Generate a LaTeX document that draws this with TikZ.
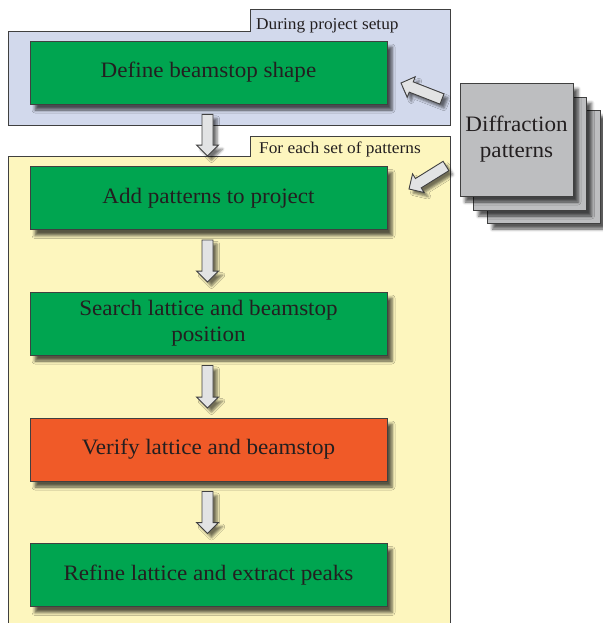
\documentclass[tikz,border=0pt]{standalone}
\usepackage{fontspec}
\setmainfont{Liberation Serif}[FakeStretch=1.05]
\usetikzlibrary{calc,shadows.blur}
\definecolor{bluep}{RGB}{210,217,236}
\definecolor{yellowp}{RGB}{253,246,190}
\definecolor{greenb}{RGB}{0,165,80}
\definecolor{orangeb}{RGB}{240,90,40}
\definecolor{grayb}{RGB}{189,190,192}
\definecolor{arrfill}{RGB}{226,227,228}
\definecolor{lineclr}{RGB}{64,64,64}
\definecolor{txt}{RGB}{35,31,32}
\newcommand\blockarrow[3]{%
  \coordinate (#1-b) at ($(#3)!11pt!(#2)$);
  \path[blockarr] ($(#2)!5.5pt!90:(#3)$) -- ($(#1-b)!5.5pt!90:(#3)$) -- ($(#1-b)!11pt!90:(#3)$) -- (#3) -- ($(#1-b)!11pt!-90:(#3)$) -- ($(#1-b)!5.5pt!-90:(#3)$) -- ($(#2)!5.5pt!-90:(#3)$) -- cycle;
}
\begin{document}
\begin{tikzpicture}[x=1pt,y=-1pt,
  panel/.style={draw=lineclr, line width=1pt},
  box/.style={draw=lineclr, line width=0.9pt, minimum width=357pt, minimum height=63pt, inner sep=0pt,
    text=txt, font=\fontsize{22}{26}\selectfont, align=center,
    blur shadow={shadow xshift=5pt, shadow yshift=-6pt, shadow opacity=65, shadow blur radius=3pt}},
  dsq/.style={draw=lineclr, line width=0.9pt, fill=grayb, minimum width=113pt, minimum height=113pt, inner sep=0pt,
    text=txt, font=\fontsize{22}{26}\selectfont, align=center,
    blur shadow={shadow xshift=5pt, shadow yshift=-6pt, shadow opacity=65, shadow blur radius=3pt}},
  blockarr/.style={draw=lineclr, line width=0.9pt, fill=arrfill, line join=miter,
    blur shadow={shadow xshift=4pt, shadow yshift=-4pt, shadow opacity=55, shadow blur radius=2.5pt}},
  plabel/.style={text=txt, font=\fontsize{16.5}{18}\selectfont, inner sep=0pt, anchor=base west}]
\useasboundingbox (0,0) rectangle (602,623);
% panels
\path[panel, fill=bluep] (8,32) -- (250,32) -- (250,10) -- (450,10) -- (450,125) -- (8,125) -- cycle;
\path[panel, fill=yellowp] (8,156) -- (250,156) -- (250,136) -- (450,136) -- (450,650) -- (8,650) -- cycle;
\node[plabel] (lab1) at (256,30) {During project setup};
\node[plabel] (lab2) at (259,153) {For each set of patterns};
% process boxes
\node[box, fill=greenb] (b1) at (208.5,72.5) {Define beamstop shape};
\node[box, fill=greenb] (b2) at (208.5,198) {Add patterns to project};
\node[box, fill=greenb] (b3) at (208.5,323.5) {Search lattice and beamstop\\position};
\node[box, fill=orangeb] (b4) at (208.5,449.5) {Verify lattice and beamstop};
\node[box, fill=greenb] (b5) at (208.5,575) {Refine lattice and extract peaks};
% diffraction pattern stack
\node[dsq] (d3) at (544,166.5) {};
\node[dsq] (d2) at (530,153.5) {};
\node[dsq] (d1) at (516.5,139.5) {Diffraction\\patterns};
% vertical block arrows
\coordinate (t1) at ($(b1.south)+(-1,10)$); \coordinate (h1) at ($(b2.north)+(-1,-10)$);
\coordinate (t2) at ($(b2.south)+(-1,10)$); \coordinate (h2) at ($(b3.north)+(-1,-9.5)$);
\coordinate (t3) at ($(b3.south)+(-1,10)$); \coordinate (h3) at ($(b4.north)+(-1,-9.5)$);
\coordinate (t4) at ($(b4.south)+(-1,10)$); \coordinate (h4) at ($(b5.north)+(-1,-9.5)$);
\blockarrow{a1}{t1}{h1}
\blockarrow{a2}{t2}{h2}
\blockarrow{a3}{t3}{h3}
\blockarrow{a4}{t4}{h4}
% diagonal block arrows from the stack
\coordinate (t5) at (442,99); \coordinate (h5) at (401,83);
\coordinate (t6) at (446,166); \coordinate (h6) at (409,189);
\blockarrow{a5}{t5}{h5}
\blockarrow{a6}{t6}{h6}
\end{tikzpicture}
\end{document}
